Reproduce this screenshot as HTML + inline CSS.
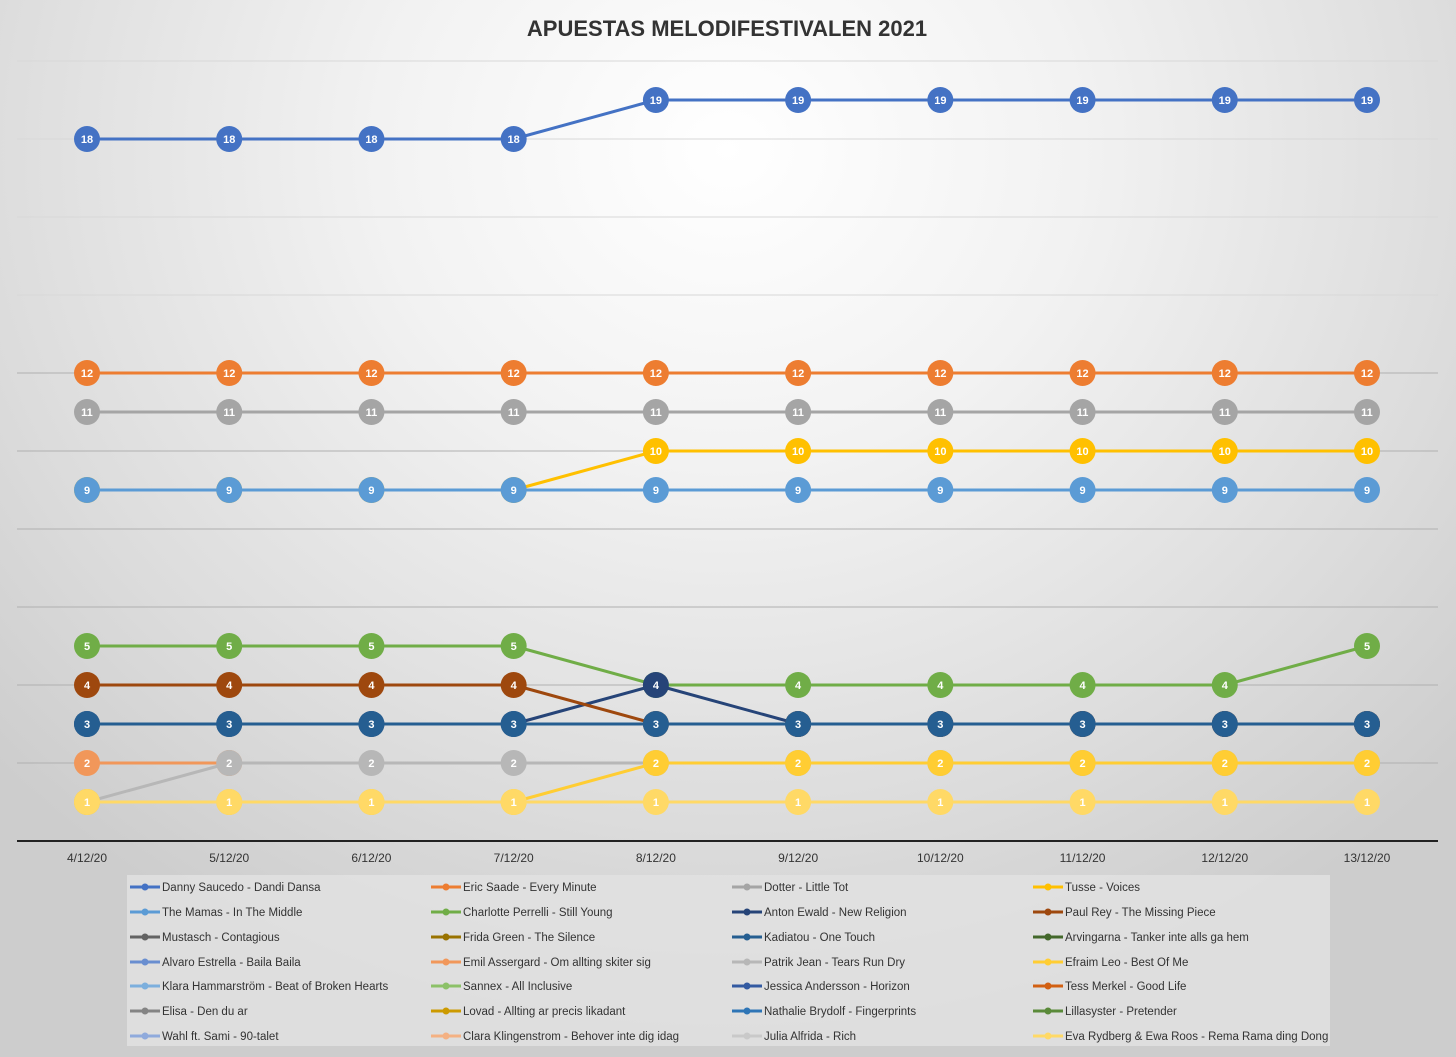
<!DOCTYPE html>
<html><head><meta charset="utf-8"><style>
html,body{margin:0;padding:0}
body{width:1456px;height:1057px;overflow:hidden;background:radial-gradient(ellipse 1000px 900px at 728px 150px,#ffffff 0%,#f2f2f2 35%,#dcdcdc 75%,#cdcdcd 100%);font-family:"Liberation Sans",sans-serif}
svg{position:absolute;left:0;top:0}
</style></head><body>
<svg id="chart" width="1456" height="1057" xmlns="http://www.w3.org/2000/svg">
<text x="727" y="36" text-anchor="middle" font-family="Liberation Sans, sans-serif" font-weight="bold" font-size="22" fill="#333">APUESTAS MELODIFESTIVALEN 2021</text>
<rect x="127" y="875" width="1203" height="171" fill="#e2e2e2" opacity="0.8"/>
<g id="grid"></g><g id="xaxis"></g><g id="series"></g><g id="legend"></g>
</svg>
<script>
const categories=["4/12/20","5/12/20","6/12/20","7/12/20","8/12/20","9/12/20","10/12/20","11/12/20","12/12/20","13/12/20"];
const gridTicks=[2,4,6,8,10,12,14,16,18,20];
const seriesNames=["Danny Saucedo - Dandi Dansa","Eric Saade - Every Minute","Dotter - Little Tot","Tusse - Voices","The Mamas - In The Middle","Charlotte Perrelli - Still Young","Anton Ewald - New Religion","Paul Rey - The Missing Piece","Mustasch - Contagious","Frida Green - The Silence","Kadiatou - One Touch","Arvingarna - Tanker inte alls ga hem","Alvaro Estrella - Baila Baila","Emil Assergard - Om allting skiter sig","Patrik Jean - Tears Run Dry","Efraim Leo - Best Of Me","Klara Hammarström - Beat of Broken Hearts","Sannex - All Inclusive","Jessica Andersson - Horizon","Tess Merkel - Good Life","Elisa - Den du ar","Lovad - Allting ar precis likadant","Nathalie Brydolf - Fingerprints","Lillasyster - Pretender","Wahl ft. Sami - 90-talet","Clara Klingenstrom - Behover inte dig idag","Julia Alfrida - Rich","Eva Rydberg & Ewa Roos - Rema Rama ding Dong"];
const seriesColors=["#4472c4","#ed7d31","#a5a5a5","#ffc000","#5b9bd5","#70ad47","#264478","#9e480e","#636363","#997300","#255e91","#43682b","#698ed0","#f1975a","#b7b7b7","#ffcd33","#7cafdd","#8cc168","#335aa1","#d26012","#848484","#cc9a00","#2e75b6","#5a8a39","#8faadc","#f4b183","#c9c9c9","#ffd966"];
const N=null;
const s_danny=[18,18,18,18,19,19,19,19,19,19];
const s_eric=[12,12,12,12,12,12,12,12,12,12];
const s_dotter=[11,11,11,11,11,11,11,11,11,11];
const s_tusse=[9,9,9,9,10,10,10,10,10,10];
const s_mamas=[9,9,9,9,9,9,9,9,9,9];
const s_charlotte=[5,5,5,5,4,4,4,4,4,5];
const s_anton=[3,3,3,3,4,3,3,3,3,3];
const s_paul=[4,4,4,4,3,3,3,3,3,3];
const s_kadiatou=[3,3,3,3,3,3,3,3,3,3];
const s_emil=[2,2,N,N,N,N,N,N,N,N];
const s_patrik=[1,2,2,2,2,2,2,2,2,2];
const s_efraim=[1,1,1,1,2,2,2,2,2,2];
const s_eva=[1,1,1,1,1,1,1,1,1,1];
const seriesValues={0:s_danny,1:s_eric,2:s_dotter,3:s_tusse,4:s_mamas,5:s_charlotte,6:s_anton,7:s_paul,10:s_kadiatou,13:s_emil,14:s_patrik,15:s_efraim,27:s_eva};

const NS="http://www.w3.org/2000/svg";
const X0=87,X1=1367,YBASE=841,YTOP=61,YMAX=20;
function xScale(i){return X0+i*(X1-X0)/(categories.length-1);}
function yScale(v){return YBASE-v*(YBASE-YTOP)/YMAX;}
function mk(t,a,p){const e=document.createElementNS(NS,t);for(const k in a)e.setAttribute(k,a[k]);p.appendChild(e);return e;}
const grid=document.getElementById('grid');
gridTicks.forEach(t=>{const l=mk('line',{x1:17,x2:1438,y1:yScale(t),y2:yScale(t),stroke:t<=12?'#b0b0b0':'#d8d8d8','stroke-width':1},grid);

});
const ax=mk('line',{x1:17,x2:1438,y1:YBASE,y2:YBASE,stroke:'#222','stroke-width':2},grid);


const xa=document.getElementById('xaxis');
categories.forEach((c,i)=>{const t=mk('text',{x:xScale(i),y:862,'text-anchor':'middle','font-size':12,fill:'#333'},xa);t.textContent=c;

});
const sg=document.getElementById('series');
Object.keys(seriesValues).map(Number).sort((a,b)=>a-b).forEach(k=>{
 const vals=seriesValues[k],col=seriesColors[k];
 const g=mk('g',{},sg);
 
 
 for(let i=0;i<vals.length-1;i++){if(vals[i]!=null&&vals[i+1]!=null){mk('line',{x1:xScale(i),y1:yScale(vals[i]),x2:xScale(i+1),y2:yScale(vals[i+1]),stroke:col,'stroke-width':3},g);}}
 vals.forEach((v,i)=>{if(v==null)return;
  const c=mk('circle',{cx:xScale(i),cy:yScale(v),r:13,fill:col},g);
  
  
  const t=mk('text',{x:xScale(i),y:yScale(v)+4,'text-anchor':'middle','font-size':11,'font-weight':'bold',fill:'#fff'},g);t.textContent=v;
  
  });
});
const lg=document.getElementById('legend');
const colX=[130,431,732,1033],rowY=[887,912,937,962,986,1011,1036];
seriesNames.forEach((n,i)=>{const cx=colX[i%4],cy=rowY[Math.floor(i/4)];
 const g=mk('g',{},lg);
 
 
 mk('line',{x1:cx,x2:cx+30,y1:cy,y2:cy,stroke:seriesColors[i],'stroke-width':3},g);
 mk('circle',{cx:cx+15,cy:cy,r:3.5,fill:seriesColors[i]},g);
 const t=mk('text',{x:cx+32,y:cy+4,'font-size':11.5,fill:'#333'},g);t.textContent=n;});
</script>
</body></html>
